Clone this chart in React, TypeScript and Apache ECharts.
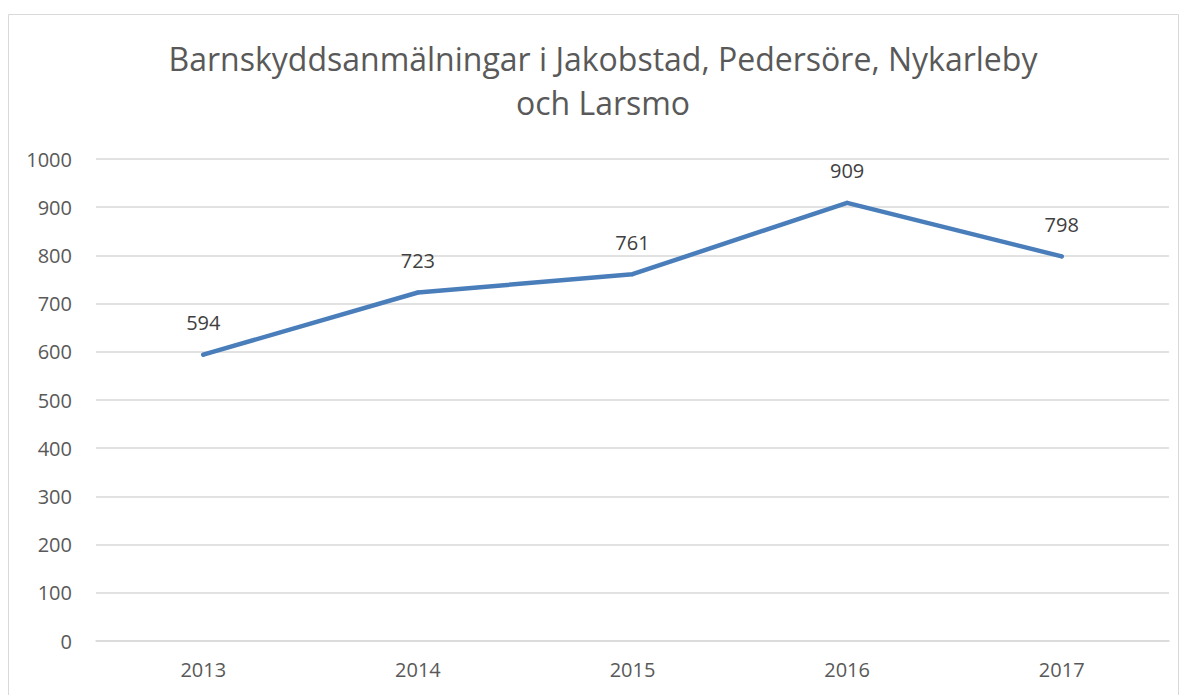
import React, { useEffect, useRef } from "react";
import * as echarts from "echarts";

const titleText = "Barnskyddsanmälningar i Jakobstad, Pedersöre, Nykarleby\noch Larsmo";
const years = ["2013", "2014", "2015", "2016", "2017"];
const reports = [594, 723, 761, 909, 798];

export default function App() {
  const ref = useRef<HTMLDivElement>(null);
  useEffect(() => {
    document.body.style.margin = "0";
    const chart = echarts.init(ref.current!, null, { renderer: "svg" });
    const font = "'Open Sans', 'Noto Sans', sans-serif";
    chart.setOption({
      animation: false,
      backgroundColor: "#ffffff",
      textStyle: { fontFamily: font },
      title: {
        text: titleText,
        left: 598,
        textAlign: "center",
        top: 31,
        textStyle: {
          fontFamily: font,
          fontSize: 32,
          fontWeight: "normal",
          color: "#595959",
          lineHeight: 44,
        },
      },
      graphic: [
        {
          type: "rect",
          shape: { x: 8.5, y: 14.5, width: 1170, height: 700 },
          style: { fill: "none", stroke: "#d9d9d9", lineWidth: 1 },
          silent: true,
        },
      ],
      grid: { left: 96, right: 17, top: 159, bottom: 54 },
      xAxis: {
        type: "category",
        data: years,
        boundaryGap: true,
        axisLine: { show: true, lineStyle: { color: "#d9d9d9", width: 1.5 } },
        axisTick: { show: false },
        axisLabel: { color: "#595959", fontSize: 20, margin: 18, fontFamily: font },
      },
      yAxis: {
        type: "value",
        min: 0,
        max: 1000,
        interval: 100,
        axisLine: { show: false },
        axisTick: { show: false },
        splitLine: { lineStyle: { color: "#d9d9d9", width: 1.5 } },
        axisLabel: {
          color: "#595959",
          fontSize: 20,
          margin: 24,
          fontFamily: font,
          formatter: (v: number) => String(v),
        },
      },
      series: [
        {
          type: "line",
          data: reports,
          symbol: "circle",
          symbolSize: 4,
          lineStyle: { color: "#4a7ebb", width: 4.5, cap: "round", join: "round" },
          itemStyle: { color: "#4a7ebb" },
          label: {
            show: true,
            position: "top",
            distance: 20,
            color: "#404040",
            fontSize: 20,
            fontFamily: font,
          },
        },
      ],
    });
    return () => chart.dispose();
  }, []);
  return (
    <div
      ref={ref}
      style={{ position: "absolute", left: 0, top: 0, width: 1186, height: 695 }}
    />
  );
}
